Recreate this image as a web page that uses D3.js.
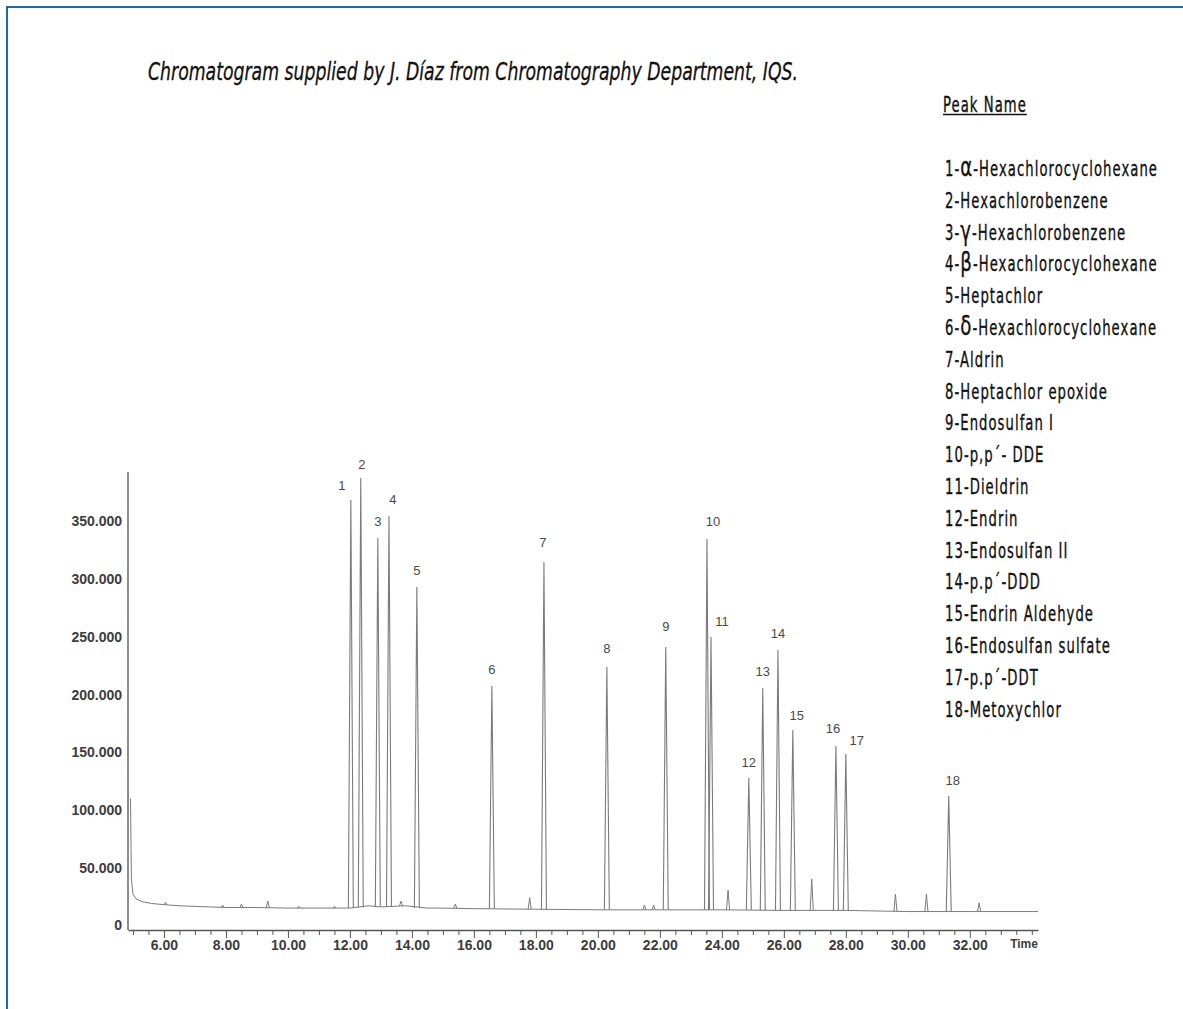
<!DOCTYPE html>
<html>
<head>
<meta charset="utf-8">
<script src="https://cdnjs.cloudflare.com/ajax/libs/d3/7.8.5/d3.min.js"></script>
<style>
  body { margin: 0; background: #fff; }
</style>
</head>
<body>
<div id="chart"></div>
<script>
// ---- data (time in min, signal in counts) ----
var peakLabels  = ["1","2","3","4","5","6","7","8","9","10","11","12","13","14","15","16","17","18"];
var peakTimes   = [12.03, 12.35, 12.90, 13.26, 14.16, 16.58, 18.26, 20.29, 22.19, 23.52, 23.65, 24.87, 25.32, 25.81, 26.29, 27.68, 28.00, 31.32];
var peakHeights = [368600, 387700, 335700, 354800, 293300, 207500, 314900, 223900, 241200, 334900, 249800, 127700, 205800, 238700, 169300, 155500, 148500, 112200];
var peakFoot    = [15000, 15500, 16500, 16500, 15000, 14500, 14000, 14000, 13500, 13500, 13500, 13500, 13000, 13000, 13000, 13000, 13000, 12000];

// small unlabelled bumps
var minorTimes   = [6.05, 7.9, 8.5, 9.35, 10.35, 11.5, 13.65, 15.4, 17.8, 21.5, 21.8, 24.2, 26.9, 29.6, 30.6, 32.3];
var minorHeights = [20000, 17500, 18500, 21000, 16500, 16500, 21000, 18500, 24000, 17500, 17500, 30500, 40000, 27000, 27000, 19500];
var minorFoot    = [18000, 15500, 15500, 15500, 15000, 15000, 17000, 15000, 14000, 13500, 13500, 13500, 13000, 12000, 12000, 12000];

// baseline drift incl. solvent front at start
var baseTimes  = [4.92, 4.95, 5.0, 5.1, 5.3, 5.6, 6.0, 6.5, 7.0, 8.0, 9.0, 10.0, 11.0, 12.0, 12.6, 13.0, 13.8, 14.5, 15.0, 16.0, 18.0, 20.0, 22.0, 24.0, 26.0, 28.0, 30.0, 32.0, 34.2];
var baseSignal = [110000, 40000, 27000, 23000, 20500, 19000, 18000, 17000, 16500, 15500, 15500, 15000, 15000, 15000, 17000, 16000, 17000, 15000, 15000, 14500, 14000, 13500, 13500, 13500, 13000, 13000, 12000, 12000, 12000];

var yTicks = [0, 50000, 100000, 150000, 200000, 250000, 300000, 350000];
var xLabelTicks = [6, 8, 10, 12, 14, 16, 18, 20, 22, 24, 26, 28, 30, 32];

var legendNames = ["1-α-Hexachlorocyclohexane", "2-Hexachlorobenzene", "3-γ-Hexachlorobenzene",
  "4-β-Hexachlorocyclohexane", "5-Heptachlor", "6-δ-Hexachlorocyclohexane", "7-Aldrin",
  "8-Heptachlor epoxide", "9-Endosulfan I", "10-p,p´- DDE", "11-Dieldrin", "12-Endrin",
  "13-Endosulfan II", "14-p.p´-DDD", "15-Endrin Aldehyde", "16-Endosulfan sulfate",
  "17-p.p´-DDT", "18-Metoxychlor"];

var titleText = "Chromatogram supplied by J. Díaz from Chromatography Department, IQS.";

// ---- layout ----
var W = 1183, H = 1009;
var axisY = 930;
var traceColor = "#7b7b7b";
var condensed = "'Liberation Sans Narrow', 'DejaVu Sans Condensed', 'Liberation Sans', sans-serif";

var svg = d3.select("#chart").append("svg")
    .attr("width", W)
    .attr("height", H);

// blue frame, open to right/bottom
svg.append("rect")
    .attr("x", 7).attr("y", 7)
    .attr("width", W + 20).attr("height", H + 20)
    .style("fill", "none")
    .style("stroke", "#1d6ca2")
    .style("stroke-width", 2);

svg.append("text")
    .attr("x", 148).attr("y", 80)
    .attr("textLength", 650)
    .attr("lengthAdjust", "spacingAndGlyphs")
    .style("font-family", condensed)
    .style("font-style", "italic")
    .style("font-size", "25px")
    .style("fill", "#111")
    .style("stroke", "#111")
    .style("stroke-width", 0.3)
    .text(titleText);

var x = d3.scaleLinear().domain([4.84, 34.2]).range([128, 1038]);
var y = d3.scaleLinear().domain([0, 392000]).range([925.4, 473]);

var line = d3.line()
    .x(function(d) { return x(d[0]); })
    .y(function(d) { return y(d[1]); });

// ---- axes ----
var euro = d3.formatLocale({decimal: ",", thousands: ".", grouping: [3], currency: ["", ""]});
var yFmt = euro.format(",");

var yAxis = svg.append("g")
    .attr("transform", "translate(128,0)")
    .call(d3.axisLeft(y).tickValues(yTicks).tickSize(0).tickPadding(6)
        .tickFormat(function(d) { return yFmt(d); }));
yAxis.select(".domain").remove();

svg.append("line")
    .attr("x1", 128).attr("x2", 128)
    .attr("y1", 472).attr("y2", axisY)
    .style("stroke", "#666").style("stroke-width", 1.5);

var minorTicks = d3.range(5, 34.01, 0.5);
var xAxis = svg.append("g")
    .attr("transform", "translate(0," + axisY + ")")
    .call(d3.axisBottom(x).tickValues(minorTicks).tickSize(5).tickPadding(5).tickSizeOuter(0)
        .tickFormat(function(d) { return xLabelTicks.indexOf(d) >= 0 ? d3.format(".2f")(d) : ""; }));
xAxis.selectAll(".tick line")
    .attr("y2", function(d) { return xLabelTicks.indexOf(d) >= 0 ? 8 : 5; })
    .style("stroke", "#555");
xAxis.select(".domain").style("stroke", "#555").style("stroke-width", 1.5);

svg.selectAll(".tick text")
    .style("font-family", "'Liberation Sans', Arial, sans-serif")
    .style("font-size", "14px")
    .style("font-weight", "bold")
    .style("fill", "#3c3c3c");

svg.append("text")
    .attr("x", x(33.75)).attr("y", axisY + 18)
    .attr("text-anchor", "middle")
    .style("font-family", "'Liberation Sans', Arial, sans-serif")
    .style("font-size", "12px")
    .style("font-weight", "bold")
    .style("fill", "#3c3c3c")
    .text("Time");

// ---- trace ----
var baseData = baseTimes.map(function(t, i) { return [t, baseSignal[i]]; });
svg.append("path")
    .datum(baseData)
    .attr("class", "baseline")
    .attr("d", line)
    .style("fill", "none")
    .style("stroke", traceColor)
    .style("stroke-width", 1);

function peakPath(t, h, foot, hw) {
    return line([[t - hw, foot], [t, h], [t + hw, foot]]);
}

svg.selectAll("path.minor")
    .data(minorTimes)
    .enter().append("path")
        .attr("class", "minor")
        .attr("d", function(d, i) { return peakPath(d, minorHeights[i], minorFoot[i], 0.05); })
        .style("fill", "none")
        .style("stroke", traceColor)
        .style("stroke-width", 1);

svg.selectAll("path.peak")
    .data(peakTimes)
    .enter().append("path")
        .attr("class", "peak")
        .attr("d", function(d, i) { return peakPath(d, peakHeights[i], peakFoot[i], 0.08); })
        .style("fill", "none")
        .style("stroke", traceColor)
        .style("stroke-width", 1.1);

// label nudges (px) where the number is not centred above the apex
var nudge = {"1": [-9, 1], "2": [1, 3], "4": [4, 0], "7": [-1, -3], "8": [0, -3], "9": [0, -5],
             "10": [6, -1], "11": [11, 0], "15": [4, 1], "16": [-3, -1], "17": [11, 2], "18": [4, 1]};

svg.selectAll("text.peakLabel")
    .data(peakLabels)
    .enter().append("text")
        .attr("class", "peakLabel")
        .attr("x", function(d, i) { return x(peakTimes[i]) + (nudge[d] ? nudge[d][0] : 0); })
        .attr("y", function(d, i) { return y(peakHeights[i]) - 11.5 + (nudge[d] ? nudge[d][1] : 0); })
        .attr("text-anchor", "middle")
        .style("font-family", "'Liberation Sans', Arial, sans-serif")
        .style("font-size", "13px")
        .style("fill", "#4a4a4a")
        .text(function(d) { return d; });

// ---- legend ----
var legend = svg.append("g")
    .style("font-family", condensed)
    .style("font-size", "21px")
    .style("letter-spacing", "1.5px")
    .style("fill", "#111")
    .style("stroke", "#111")
    .style("stroke-width", 0.35);

legend.append("text")
    .attr("x", 0).attr("y", 112)
    .text("Peak Name");

var items = legend.selectAll("text.item")
    .data(legendNames)
    .enter().append("text")
        .attr("class", "item")
        .attr("x", 0)
        .attr("y", function(d, i) { return 176 + i * 31.8; });

items.each(function(d) {
    var parts = d.split(/([α-ω])/);
    var el = d3.select(this);
    parts.forEach(function(p) {
        if (!p) return;
        var ts = el.append("tspan").text(p);
        if (/[α-ω]/.test(p)) {
            ts.style("font-family", "'DejaVu Sans', sans-serif").style("font-size", "26px");
        }
    });
});

// squeeze legend horizontally so the first entry spans 945..1158 like the original
var firstW = items.node().getComputedTextLength();
var sx = 213 / firstW;
legend.attr("transform", "translate(945,0) scale(" + sx + ",1)");

var pnW = legend.select("text").node().getComputedTextLength() * sx;
svg.append("line")
    .attr("x1", 943).attr("x2", 943 + pnW)
    .attr("y1", 114.5).attr("y2", 114.5)
    .style("stroke", "#111").style("stroke-width", 1.3);
legend.select("text").attr("x", -2 / sx);
</script>
</body>
</html>
